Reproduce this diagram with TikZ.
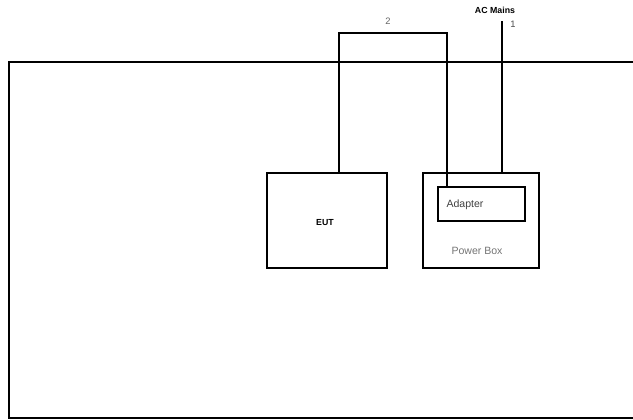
\documentclass[tikz,border=0pt]{standalone}
\usepackage{fontspec}
\setmainfont{Liberation Sans}
\usetikzlibrary{positioning,calc}

\begin{document}
\begin{tikzpicture}[
  x=0.03cm, y=-0.03cm,
  box/.style={draw=black, line width=1.7pt, inner sep=0pt,
    font=\fontsize{7.5}{8}\selectfont},
  wire/.style={draw=black, line width=1.7pt},
  lbl/.style={font=\fontsize{9}{10}\selectfont, inner sep=0pt},
]
  \useasboundingbox (0,0) rectangle (633,420);

  %% ---- Test room (open on the right) ----
  \draw[wire] (633,62) -- (9,62) -- (9,418) -- (633,418);

  %% ---- Equipment ----
  \node[box, minimum width=120*0.03cm, minimum height=95*0.03cm] (eut) at (327,220.5) {};
  \node[lbl, font=\fontsize{7.5}{8}\selectfont\bfseries] (euttxt) at (325,223) {EUT};
  \node[box, minimum width=116*0.03cm, minimum height=95*0.03cm] (pbox) at (481,220.5) {};
  \node[box, minimum width=87*0.03cm, minimum height=34*0.03cm] (adapter) at (481.5,204) {};
  \node[lbl, text=black!75] (adtxt) at (465,205) {Adapter};
  \node[lbl, text=black!55] (pbtxt) at (477,251) {Power Box};

  %% ---- Cables ----
  \coordinate (c2a) at (339,33);
  \coordinate (c2b) at (447,33);
  \draw[wire] (c2a |- eut.north) -- (c2a) -- (c2b) -- (c2b |- adapter.north);
  \node[lbl, font=\fontsize{8}{9}\selectfont, text=black!60] (n2) at (388,21) {2};

  \coordinate (c1) at (502,21);
  \draw[wire] (c1) -- (c1 |- pbox.north);
  \node[lbl, font=\fontsize{8}{9}\selectfont, text=black!70] (n1) at (513,24) {1};
  \node[lbl, font=\fontsize{7.5}{8}\selectfont\bfseries] (mains) at (495,10) {AC Mains};

\end{tikzpicture}
\end{document}
